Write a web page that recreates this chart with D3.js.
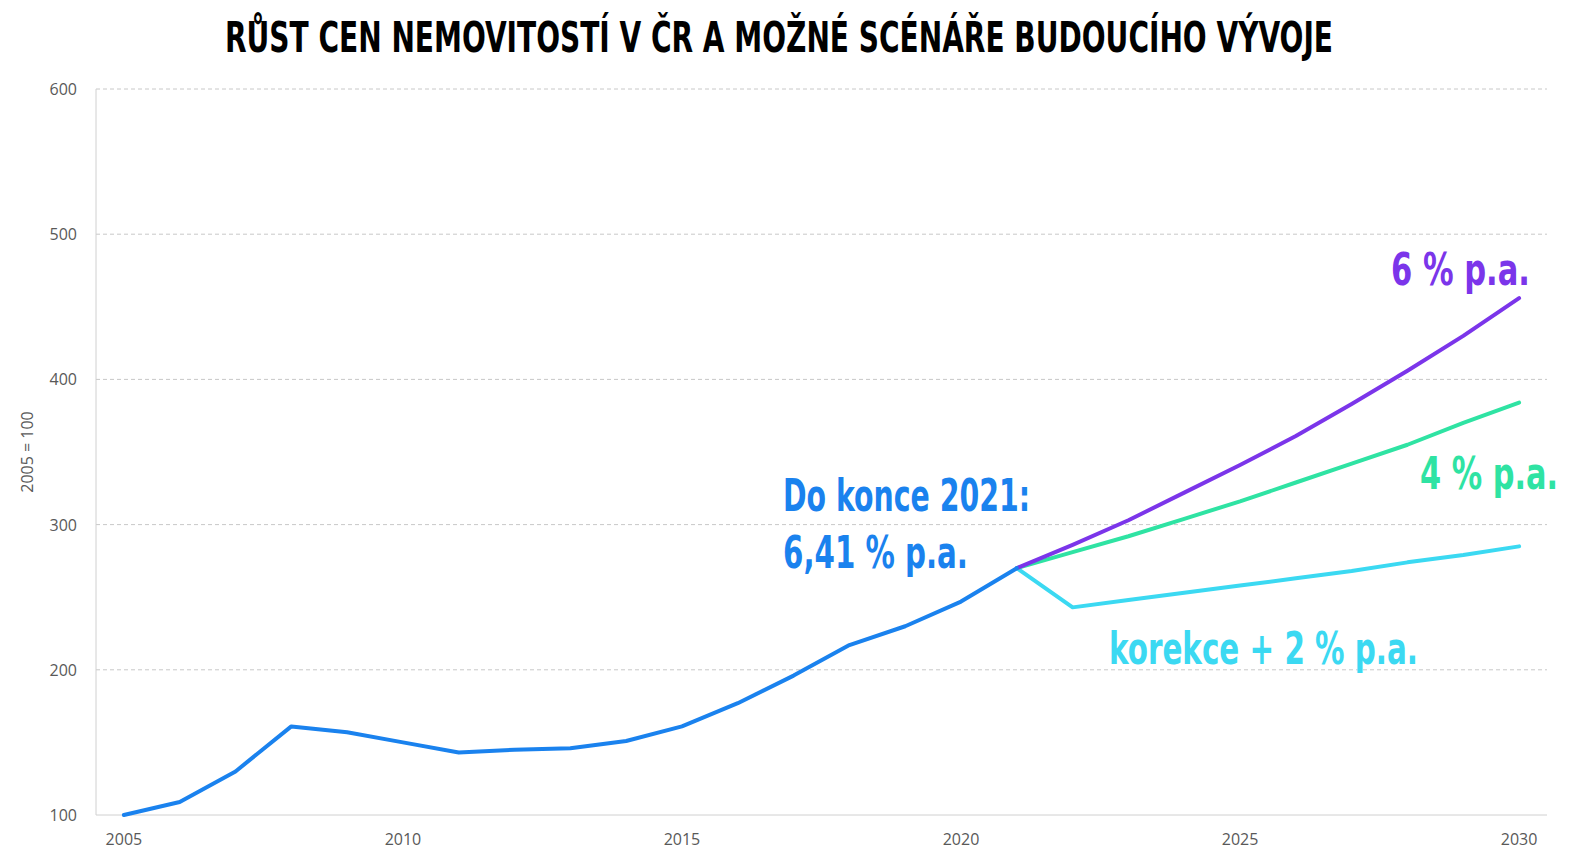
<!DOCTYPE html>
<html><head><meta charset="utf-8">
<script src="https://cdn.jsdelivr.net/npm/d3@7"></script>
<style>body{margin:0;background:#fff}.cond{font-family:"Liberation Sans Narrow","DejaVu Sans Condensed",sans-serif;font-weight:bold;font-stretch:condensed}</style>
</head><body><svg id="chart" width="1572" height="860"></svg>
<script>
var years = d3.range(2005, 2022);
var historyValues = [100,109,130,161,157,150,143,145,146,151,161,177,196,217,230,247,270];
var futureYears = d3.range(2021, 2031);
var growth6 = [270,286,303,322,341,361,383,406,430,456];
var growth4 = [270,281,292,304,316,329,342,355,370,384];
var correction = [270,243,248,253,258,263,268,274,279,285];
var yTicks = [100,200,300,400,500,600];
var xTicks = [2005,2010,2015,2020,2025,2030];

var svg = d3.select("#chart");
var x = d3.scaleLinear().domain([2004.5, 2030.5]).range([96, 1547]);
var y = d3.scaleLinear().domain([100, 600]).range([815, 89]);

// grid
svg.selectAll(".grid").data(yTicks.slice(1)).enter().append("line")
    .attr("x1", 96).attr("x2", 1547)
    .attr("y1", function(d){ return y(d); }).attr("y2", function(d){ return y(d); })
    .attr("stroke", "#c8c8c8").attr("stroke-dasharray", "4,3");
svg.append("line").attr("x1",96).attr("x2",96).attr("y1",89).attr("y2",815).attr("stroke","#d0d0d0");
svg.append("line").attr("x1",96).attr("x2",1547).attr("y1",815).attr("y2",815).attr("stroke","#d0d0d0");

svg.selectAll(".yt").data(yTicks).enter().append("text")
    .attr("x", 77).attr("y", function(d){ return y(d) + 6; })
    .attr("text-anchor", "end").attr("font-family", "Open Sans, sans-serif")
    .attr("font-size", 16).attr("fill", "#595959").text(function(d){ return d; });
svg.selectAll(".xt").data(xTicks).enter().append("text")
    .attr("x", function(d){ return x(d); }).attr("y", 845)
    .attr("text-anchor", "middle").attr("font-family", "Open Sans, sans-serif")
    .attr("font-size", 16).attr("fill", "#595959").text(function(d){ return d; });
svg.append("text").attr("transform", "translate(33,452) rotate(-90)")
    .attr("text-anchor", "middle").attr("font-family", "Open Sans, sans-serif")
    .attr("font-size", 16).attr("fill", "#595959").text("2005 = 100");

var line = d3.line().x(function(d){ return x(d[0]); }).y(function(d){ return y(d[1]); });
function draw(xs, vs, color) {
    svg.append("path").datum(xs.map(function(v, i){ return [v, vs[i]]; }))
        .attr("d", line).attr("fill", "none").attr("stroke", color)
        .attr("stroke-width", 4).attr("stroke-linejoin", "round").attr("stroke-linecap", "round");
}
draw(futureYears, correction, "#3bd9f2");
draw(futureYears, growth4, "#2fe3a3");
draw(futureYears, growth6, "#7b35ea");
draw(years, historyValues, "#1a82ee");

function label(t, px, py, size, color, w) {
    svg.append("text").attr("class", "cond").attr("x", px).attr("y", py)
        .attr("font-size", size).attr("fill", color)
        .attr("textLength", w).attr("lengthAdjust", "spacingAndGlyphs").text(t);
}
label("RŮST CEN NEMOVITOSTÍ V ČR A MOŽNÉ SCÉNÁŘE BUDOUCÍHO VÝVOJE", 225, 52, 42, "#000", 1108);
label("6 % p.a.", 1391, 285, 44, "#7b35ea", 139);
label("4 % p.a.", 1420, 489, 44, "#2fe3a3", 138);
label("korekce + 2 % p.a.", 1109, 664, 44, "#3bd9f2", 309);
label("Do konce 2021:", 783, 511, 44, "#1a82ee", 247);
label("6,41 % p.a.", 783, 568, 44, "#1a82ee", 185);
</script></body></html>
